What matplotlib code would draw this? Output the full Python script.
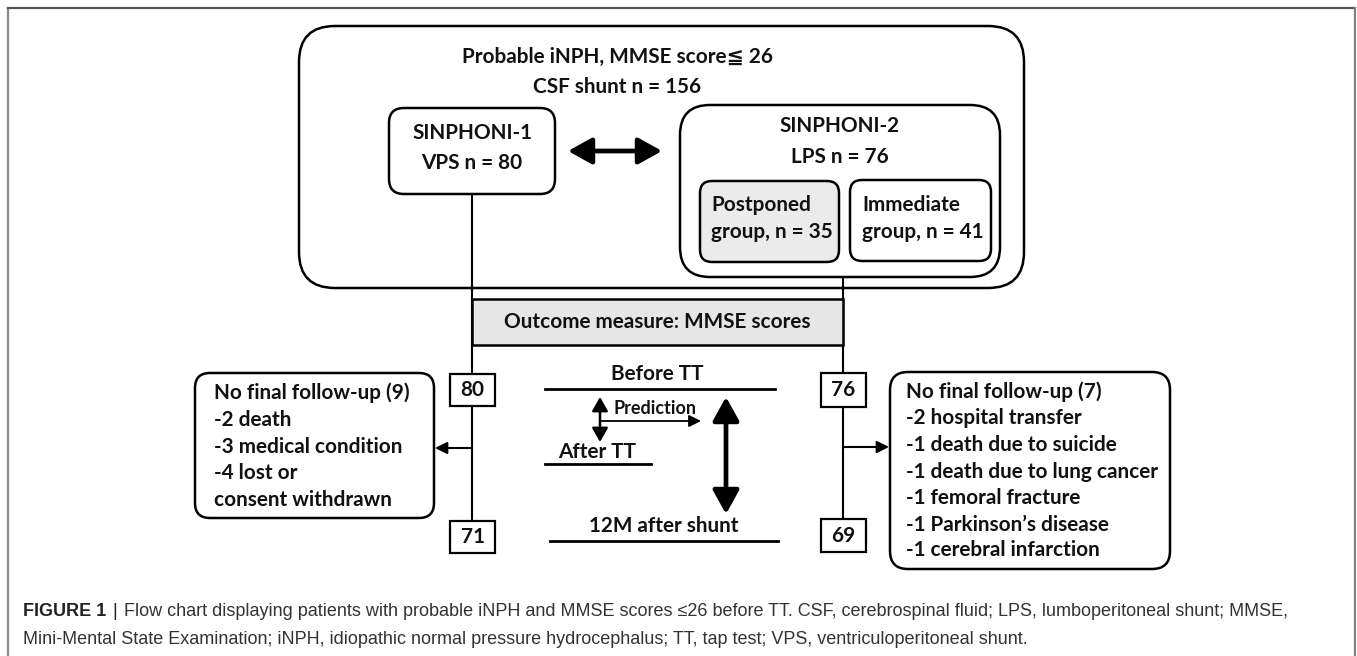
import matplotlib

matplotlib.use("Agg")
import matplotlib.pyplot as plt
from matplotlib import font_manager
from matplotlib.patches import FancyArrowPatch, FancyBboxPatch, Rectangle

W, H = 1357, 656

# ---- chart content ----
TITLE_LINES = ["Probable iNPH, MMSE score\u2266 26", "CSF shunt n = 156"]
ARM_LABELS = [["SINPHONI-1", "VPS n = 80"], ["SINPHONI-2", "LPS n = 76"]]
GROUP_LABELS = [["Postponed", "group, n = 35"], ["Immediate", "group, n = 41"]]
OUTCOME = "Outcome measure: MMSE scores"
N_START = [80, 76]
N_FINAL = [71, 69]
DROPOUT_LEFT = ["No final follow-up (9)", "-2 death", "-3 medical condition",
                "-4 lost or", "consent withdrawn"]
DROPOUT_RIGHT = ["No final follow-up (7)", "-2 hospital transfer", "-1 death due to suicide",
                 "-1 death due to lung cancer", "-1 femoral fracture",
                 "-1 Parkinson\u2019s disease", "-1 cerebral infarction"]
TIMEPOINTS = ["Before TT", "After TT", "12M after shunt"]
PREDICTION = "Prediction"
CAPTION_HEAD = "FIGURE 1"
CAPTION_LINES = [
    "Flow chart displaying patients with probable iNPH and MMSE scores \u226426 before TT. "
    "CSF, cerebrospinal fluid; LPS, lumboperitoneal shunt; MMSE,",
    "Mini-Mental State Examination; iNPH, idiopathic normal pressure hydrocephalus; "
    "TT, tap test; VPS, ventriculoperitoneal shunt.",
]

names = {f.name for f in font_manager.fontManager.ttflist}
BOX_FONT = ["Lato", "DejaVu Sans"]
CAP_FONT = "Liberation Sans Narrow" if "Liberation Sans Narrow" in names else "Liberation Sans"
INK = "#111111"

fig = plt.figure(figsize=(W / 100, H / 100), dpi=100)
ax = fig.add_axes([0, 0, 1, 1])
ax.set_xlim(0, W)
ax.set_ylim(H, 0)
ax.axis("off")
rend = fig.canvas.get_renderer()


def width_at10(text, family, weight="bold"):
    t = ax.text(0, 0, text, fontsize=10, family=family, fontweight=weight)
    w = t.get_window_extent(rend).width
    t.remove()
    return w


# one font size for all box text, matched to a few measured string widths
# (Lato runs a bit wider than the original on lowercase, so lean small)
probe = [(TITLE_LINES[0], 334), (OUTCOME, 339), (DROPOUT_RIGHT[3], 251),
         (GROUP_LABELS[0][1], 120), (DROPOUT_LEFT[0], 193)]
FS = 0.965 * 10 * sum(w for _, w in probe) / sum(width_at10(s, BOX_FONT) for s, _ in probe)
FS_PRED = 10 * 83 / width_at10(PREDICTION, BOX_FONT)
FS_CAP = 10 * 1165 / width_at10(CAPTION_LINES[0], CAP_FONT, "normal")


def rbox(x0, y0, x1, y1, r, fc="white", lw=1.8, z=3):
    ax.add_patch(FancyBboxPatch((x0, y0), x1 - x0, y1 - y0,
                                boxstyle=f"round,pad=0,rounding_size={r}",
                                fc=fc, ec="black", lw=lw, zorder=z))


def label(x, y, s, ha="center", size=None, z=5):
    ax.text(x, y, s, ha=ha, va="center", fontsize=size or FS, family=BOX_FONT,
            fontweight="bold", color=INK, zorder=z)


def arrow(p0, p1, style, lw, ms):
    ax.add_patch(FancyArrowPatch(p0, p1, arrowstyle=style, lw=lw, mutation_scale=ms,
                                 color="black", shrinkA=0, shrinkB=0, zorder=4))


# page frame
ax.plot([7.5, 7.5], [8, H], color="#8a8a8a", lw=1.6, zorder=1)
ax.plot([7.5, 1355], [8, 8], color="#555555", lw=1.6, zorder=1)
ax.plot([1355, 1355], [8, H], color="#808080", lw=1.6, zorder=1)

# enrolment block
rbox(299, 26, 1024, 288, 36, z=1)
for y, s in zip([57, 87], TITLE_LINES):
    label(617, y, s)

rbox(389, 108, 555, 194, 15)
for y, s in zip([133, 163], ARM_LABELS[0]):
    label(472, y, s)
arrow((568, 151), (662, 151), "<|-|>,head_length=0.9,head_width=0.5", 3.4, 16)

rbox(680, 105, 1000, 277, 30)
for y, s in zip([126, 157], ARM_LABELS[1]):
    label(840, y, s)
rbox(700, 181, 839, 262, 12, fc="#ebebeb", z=4)
rbox(850, 180, 991, 261, 12, z=4)
for x0, lines in zip([711, 862], GROUP_LABELS):
    for y, s in zip([205, 232], lines):
        label(x0, y, s, ha="left")

# arm lines and outcome box
LX, RX = 472, 843
ax.plot([LX, LX], [194, 521], color="black", lw=1.5, zorder=2)
ax.plot([RX, RX], [277, 519], color="black", lw=1.5, zorder=2)
ax.add_patch(Rectangle((LX, 299), RX - LX, 46, fc="#e6e6e6", ec="black", lw=1.8, zorder=3))
label((LX + RX) / 2, 322, OUTCOME)

# patient counts
for cx, (y0, y1), n in [(LX, (374, 406), N_START[0]), (RX, (373, 407), N_START[1]),
                        (LX, (521, 553), N_FINAL[0]), (RX, (519, 552), N_FINAL[1])]:
    ax.add_patch(Rectangle((cx - 22, y0), 45, y1 - y0, fc="white", ec="black", lw=1.6, zorder=3))
    label(cx + 0.5, (y0 + y1) / 2, str(n))

# dropouts
rbox(195, 373, 434, 518, 15)
for y, s in zip([393, 420, 447, 473, 500], DROPOUT_LEFT):
    label(214, y, s, ha="left")
arrow((LX, 448), (435, 448), "-|>,head_length=0.6,head_width=0.3", 1.5, 12)

rbox(890, 372, 1170, 569, 18)
for y, s in zip([392, 418, 445, 472, 498, 525, 550], DROPOUT_RIGHT):
    label(906, y, s, ha="left")
arrow((RX, 447), (889, 447), "-|>,head_length=0.6,head_width=0.3", 1.5, 12)

# time points
ax.plot([545, 775], [389, 389], color="black", lw=2.0)
label(657, 374, TIMEPOINTS[0])
ax.plot([545, 651], [464, 464], color="black", lw=2.0)
label(597, 452, TIMEPOINTS[1])
ax.plot([550, 778], [541, 541], color="black", lw=2.0)
label(664, 526, TIMEPOINTS[2])

label(655, 408, PREDICTION, size=FS_PRED)
arrow((600, 397), (600, 442), "<|-|>,head_length=0.7,head_width=0.4", 1.8, 12)
arrow((601, 421), (701, 421), "-|>,head_length=0.6,head_width=0.3", 1.3, 12)
arrow((726, 397), (726, 514), "<|-|>,head_length=0.9,head_width=0.5", 3.4, 16)

# caption
ax.text(23, 612, CAPTION_HEAD, fontsize=FS_CAP, family=CAP_FONT, fontweight="bold",
        color="#222222", va="center")
ax.text(115, 612, "|", fontsize=FS_CAP, family=CAP_FONT, color="#222222", va="center",
        ha="center")
ax.text(124, 612, CAPTION_LINES[0], fontsize=FS_CAP, family=CAP_FONT, color="#333333",
        va="center")
ax.text(23, 639, CAPTION_LINES[1], fontsize=FS_CAP, family=CAP_FONT, color="#333333",
        va="center")

fig.savefig("out.png", dpi=100)
